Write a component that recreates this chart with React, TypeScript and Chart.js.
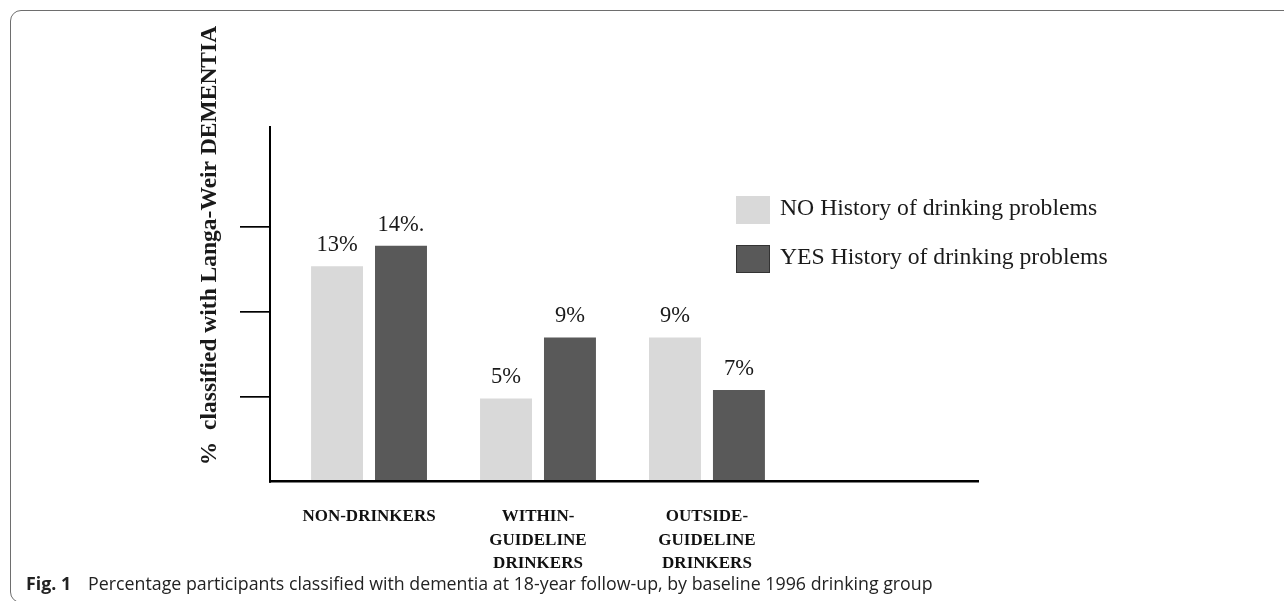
import React, { useEffect, useRef } from "react";
import { Chart, registerables } from "chart.js";

Chart.register(...registerables);

// ---- data ----
const groupLabels: string[][] = [
  ["NON-DRINKERS"],
  ["WITHIN-", "GUIDELINE", "DRINKERS"],
  ["OUTSIDE-", "GUIDELINE", "DRINKERS"],
];
const seriesNames = ["NO History of drinking problems", "YES History of drinking problems"];
const noValues = [12.7, 4.9, 8.5];
const yesValues = [13.9, 8.5, 5.4];
const noLabels = ["13%", "5%", "9%"];
const yesLabels = ["14%.", "9%", "7%"];
const yTicks = [5, 10, 15];
const yMax = 20.9;
const xMin = -0.586;
const xMax = 3.604;
const yTitle = "%  classified with Langa-Weir DEMENTIA";
const captionBold = "Fig. 1";
const captionText = "Percentage participants classified with dementia at 18-year follow-up, by baseline 1996 drinking group";

// ---- styles ----
const LIGHT = "#d9d9d9";
const DARK = "#595959";
const SERIF = '"Liberation Serif", "Times New Roman", serif';

const annotate = {
  id: "annotate",
  afterDatasetsDraw(chart: any) {
    const ctx = chart.ctx;
    const area = chart.chartArea;
    const labelSets = [noLabels, yesLabels];
    ctx.save();
    ctx.fillStyle = "#1a1a1a";
    ctx.font = `22.5px ${SERIF}`;
    ctx.textAlign = "center";
    ctx.textBaseline = "alphabetic";
    chart.data.datasets.forEach((_: any, di: number) => {
      const meta = chart.getDatasetMeta(di);
      meta.data.forEach((bar: any, i: number) => {
        ctx.fillText(labelSets[di][i], bar.x, bar.y - 15);
      });
    });

    // legend
    const colors = [LIGHT, DARK];
    const sx = area.right - 242;
    ctx.textAlign = "left";
    ctx.font = `23.7px ${SERIF}`;
    seriesNames.forEach((name, i) => {
      const top = area.top + 69 + i * 49;
      ctx.fillStyle = colors[i];
      ctx.fillRect(sx, top, 34, 28);
      if (i === 1) {
        ctx.strokeStyle = "#333";
        ctx.lineWidth = 1;
        ctx.strokeRect(sx + 0.5, top + 0.5, 33, 27);
      }
      ctx.fillStyle = "#1a1a1a";
      ctx.fillText(name, sx + 44, top + 19);
    });

    // y title
    ctx.save();
    ctx.translate(area.left - 54, area.top + 118.5);
    ctx.rotate(-Math.PI / 2);
    ctx.font = `bold 23.5px ${SERIF}`;
    ctx.textAlign = "center";
    ctx.fillText(yTitle, 0, 0);
    ctx.restore();
    ctx.restore();
  },
};

export default function App() {
  const ref = useRef<HTMLCanvasElement | null>(null);
  useEffect(() => {
    if (!ref.current) return;
    const chart = new Chart(ref.current, {
      type: "bar",
      data: {
        datasets: [
          {
            label: seriesNames[0],
            data: noValues.map((v, i) => ({ x: i, y: v })),
            backgroundColor: LIGHT,
            borderWidth: 0,
          },
          {
            label: seriesNames[1],
            data: yesValues.map((v, i) => ({ x: i, y: v })),
            backgroundColor: DARK,
            borderWidth: 0,
          },
        ],
      },
      options: {
        animation: false,
        responsive: false,
        events: [],
        categoryPercentage: 0.757,
        barPercentage: 0.8125,
        layout: { padding: { left: 240, right: 306, top: 127, bottom: 2 } },
        plugins: { legend: { display: false }, tooltip: { enabled: false }, title: { display: false } },
        scales: {
          x: {
            type: "linear",
            min: xMin,
            max: xMax,
            offset: false,
            afterBuildTicks: (s: any) => {
              s.ticks = groupLabels.map((_, i) => ({ value: i }));
            },
            grid: { display: false, drawTicks: false },
            border: { display: true, color: "#000", width: 2.5, z: 1 },
            ticks: {
              autoSkip: false,
              maxRotation: 0,
              minRotation: 0,
              padding: 23,
              color: "#111",
              font: { family: SERIF, size: 17, weight: "bold", lineHeight: 1.4 },
              callback: (_v: any, i: number) => groupLabels[i],
            },
          },
          y: {
            min: 0,
            max: yMax,
            afterBuildTicks: (s: any) => {
              s.ticks = yTicks.map((v) => ({ value: v }));
            },
            grid: { drawOnChartArea: false, drawTicks: true, tickLength: 30, color: "#000", lineWidth: 1.7 },
            border: { display: true, color: "#000", width: 2, z: 1 },
            ticks: { display: false },
          },
        },
      },
      plugins: [annotate],
    });
    return () => chart.destroy();
  }, []);

  return (
    <div style={{ position: "fixed", left: 0, top: 0, width: 1284, height: 601, overflow: "hidden", background: "#fff" }}>
      <div
        style={{
          position: "absolute",
          left: 10,
          top: 10,
          width: 1300,
          height: 593,
          border: "1.5px solid #6e6e6e",
          borderRadius: 11,
          boxSizing: "border-box",
        }}
      />
      <canvas ref={ref} width={1284} height={601} style={{ position: "absolute", left: 0, top: 0 }} />
      <div
        style={{
          position: "absolute",
          left: 26,
          top: 571,
          fontFamily: '"Open Sans", sans-serif',
          fontSize: 17.8,
          color: "#222",
          whiteSpace: "nowrap",
          lineHeight: "24px",
        }}
      >
        <span style={{ fontWeight: 700, marginRight: 17 }}>{captionBold}</span>
        <span>{captionText}</span>
      </div>
    </div>
  );
}
